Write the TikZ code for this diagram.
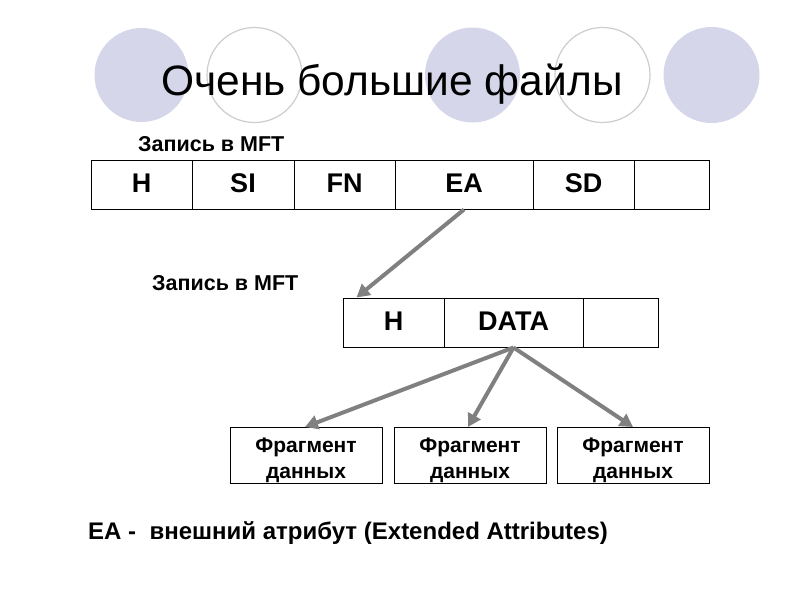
\documentclass[tikz,border=0pt]{standalone}
\usepackage{fontspec}
\setmainfont{Liberation Sans}
\usetikzlibrary{arrows.meta,calc}
\definecolor{circfill}{RGB}{214,214,235}
\definecolor{circline}{RGB}{205,205,205}
\definecolor{arrowgray}{RGB}{128,128,128}
\tikzset{
  filledcirc/.style={fill=circfill, draw=none},
  opencirc/.style={draw=circline, line width=1.2pt, fill=white},
  cell/.style={draw, line width=1pt, minimum height=49pt, inner sep=0pt,
    text height=19.5pt, text depth=4pt,
    font=\bfseries\fontsize{27}{27}\selectfont},
  lbl/.style={anchor=base west, inner sep=0pt, font=\bfseries\fontsize{21.5}{21.5}\selectfont},
  note/.style={anchor=base west, inner sep=0pt, font=\bfseries\fontsize{24}{24}\selectfont},
  fragbox/.style={draw, line width=1pt, minimum width=152pt, minimum height=56pt, inner sep=0pt},
  fragtext/.style={align=center, inner sep=0pt, font=\bfseries\fontsize{21}{26}\selectfont},
  bigarrow/.style={draw=arrowgray, line width=4pt, -{Triangle[length=13pt,width=14pt]}}
}
\begin{document}
\begin{tikzpicture}[x=1pt,y=-1pt]
\useasboundingbox (0,0) rectangle (800,600);
% decorative circles
\path[filledcirc] (141.5,75) circle (47);
\path[opencirc] (254.5,75) circle (47.5);
\path[filledcirc] (472.5,75) circle (47.5);
\path[opencirc] (602.5,75) circle (47.5);
\path[filledcirc] (711.5,75) circle (48);
% title
\node[anchor=base, inner sep=0pt, font=\fontsize{42.5}{42.5}\selectfont] (title) at (392,95) {Очень большие файлы};
% first MFT record
\node[lbl] (lbl1) at (138,151) {Запись в MFT};
\node[cell, minimum width=101pt] (h1) at (141.5,184.5) {H};
\node[cell, minimum width=102pt] (si) at (243,184.5) {SI};
\node[cell, minimum width=101pt] (fn) at (344.5,184.5) {FN};
\node[cell, minimum width=138pt] (ea) at (464,184.5) {EA};
\node[cell, minimum width=101pt] (sd) at (583.5,184.5) {SD};
\node[cell, minimum width=75pt] (e1) at (671.5,184.5) {};
% second MFT record
\node[lbl] (lbl2) at (152,290) {Запись в MFT};
\node[cell, minimum width=101pt] (h2) at (393.5,322.5) {H};
\node[cell, minimum width=139pt] (data) at (513.5,322.5) {DATA};
\node[cell, minimum width=75pt] (e2) at (620.5,322.5) {};
% data fragments
\node[fragbox] (f1) at (306,455.5) {};
\node[fragbox] (f2) at (470,455.5) {};
\node[fragbox] (f3) at (633,455.5) {};
\node[fragtext, anchor=base] (t1) at ($(f1.north)+(0,51)$) {Фрагмент\\данных};
\node[fragtext, anchor=base] (t2) at ($(f2.north)+(0,51)$) {Фрагмент\\данных};
\node[fragtext, anchor=base] (t3) at ($(f3.north)+(0,51)$) {Фрагмент\\данных};
% arrows
\coordinate (h2in) at ($(h2.north west)+(14,0)$);
\draw[bigarrow] (ea.south) -- (h2in);
\draw[bigarrow] (data.south) -- ($(f1.north)+(-1,0)$);
\draw[bigarrow] (data.south) -- ($(f2.north)+(-2,0)$);
\draw[bigarrow] (data.south) -- (f3.north);
% footnote
\node[note] (notetext) at (88,539) {EA -\ \ внешний атрибут (Extended Attributes)};
\end{tikzpicture}
\end{document}
